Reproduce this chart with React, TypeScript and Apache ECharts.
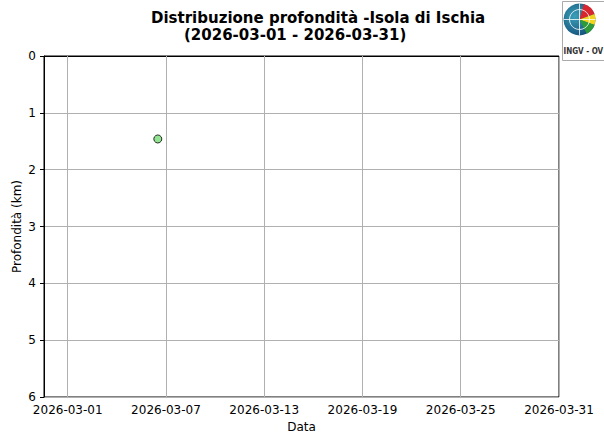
import React, { useEffect, useRef } from "react";
import * as echarts from "echarts";

// ---- data ----
const eventTimes: string[] = ["2026-03-06T12:00:00Z"];
const eventDepths: number[] = [1.46];
const xTickDates: string[] = [
  "2026-03-01",
  "2026-03-07",
  "2026-03-13",
  "2026-03-19",
  "2026-03-25",
  "2026-03-31",
];
const yTicks: number[] = [0, 1, 2, 3, 4, 5, 6];
const titleLine1 = "Distribuzione profondità -Isola di Ischia";
const titleLine2 = "(2026-03-01 - 2026-03-31)";

const DAY = 86400000;
const toMs = (s: string) => new Date(s.length === 10 ? s + "T00:00:00Z" : s).getTime();

export default function App() {
  const ref = useRef<HTMLDivElement>(null);
  useEffect(() => {
    if (!ref.current) return;
    const chart = echarts.init(ref.current, null, { renderer: "svg" });
    const tickVals = xTickDates.map(toMs);
    const xMin = tickVals[0] - 1.45 * DAY;
    const xMax = tickVals[tickVals.length - 1];
    const font = "DejaVu Sans";
    chart.setOption({
      animation: false,
      backgroundColor: "#ffffff",
      textStyle: { fontFamily: font },
      grid: {
        left: 44,
        top: 56,
        width: 515,
        height: 341,
        show: true,
        borderColor: "#000",
        borderWidth: 1,
        backgroundColor: "transparent",
        containLabel: false,
        outerBoundsMode: "none",
      },
      xAxis: {
        type: "value",
        min: xMin,
        max: xMax,
        name: "Data",
        nameLocation: "middle",
        nameGap: 24,
        nameMoveOverlap: false,
        nameTextStyle: { fontSize: 12, color: "#000", fontFamily: font },
        axisLine: { show: true, lineStyle: { color: "#000", width: 1 } },
        axisTick: {
          show: true,
          length: 4,
          lineStyle: { color: "#000" },
          customValues: tickVals,
        },
        axisLabel: {
          customValues: tickVals,
          color: "#000",
          fontSize: 12,
          fontFamily: font,
          margin: 7,
          formatter: (v: number) => new Date(v).toISOString().slice(0, 10),
        },
        splitLine: { show: false },
      },
      yAxis: {
        type: "value",
        inverse: true,
        min: yTicks[0],
        max: yTicks[yTicks.length - 1],
        interval: 1,
        name: "Profondità (km)",
        nameLocation: "middle",
        nameGap: 21,
        nameMoveOverlap: false,
        nameRotate: 90,
        nameTextStyle: { fontSize: 12, color: "#000", fontFamily: font },
        axisLine: { show: true, lineStyle: { color: "#000", width: 1 } },
        axisTick: { show: true, length: 4, lineStyle: { color: "#000" } },
        axisLabel: { color: "#000", fontSize: 12, fontFamily: font, margin: 8 },
        splitLine: { show: true, lineStyle: { color: "#b0b0b0", width: 1 } },
      },
      series: [
        {
          type: "scatter",
          data: [],
          z: 1,
          markLine: {
            silent: true,
            symbol: "none",
            label: { show: false },
            lineStyle: { color: "#b0b0b0", width: 1, type: "solid" },
            data: tickVals.map((v) => ({ xAxis: v })),
          },
        },
        {
          type: "scatter",
          z: 5,
          symbol: "circle",
          symbolSize: 8,
          itemStyle: { color: "#77dd77", borderColor: "#000", borderWidth: 1 },
          data: eventTimes.map((t, i) => [toMs(t), eventDepths[i]]),
        },
      ],
      graphic: [
        {
          type: "text",
          left: 151,
          top: 10,
          style: { text: titleLine1, font: "bold 15px 'DejaVu Sans'", fill: "#000" },
        },
        {
          type: "text",
          left: 184,
          top: 27,
          style: { text: titleLine2, font: "bold 15px 'DejaVu Sans'", fill: "#000" },
        },
        {
          type: "group",
          left: 561,
          top: 1,
          children: [
            {
              type: "rect",
              shape: { x: 0, y: 0, width: 50, height: 59 },
              style: { fill: "#fff", stroke: "#aaa", lineWidth: 1 },
            },
            {
              type: "circle",
              shape: { cx: 17, cy: 18, r: 16 },
              style: {
                fill: new echarts.graphic.RadialGradient(0.35, 0.4, 0.8, [
                  { offset: 0, color: "#3aa0b8" },
                  { offset: 1, color: "#0d3f6e" },
                ]),
              },
            },
            {
              type: "sector",
              shape: { cx: 17, cy: 18, r: 16, r0: 0, startAngle: -1.3, endAngle: -0.35 },
              style: { fill: "#d8262e" },
            },
            {
              type: "sector",
              shape: { cx: 17, cy: 18, r: 16, r0: 0, startAngle: -0.35, endAngle: 0.35 },
              style: { fill: "#f2d41a" },
            },
            {
              type: "sector",
              shape: { cx: 17, cy: 18, r: 16, r0: 0, startAngle: 0.35, endAngle: 1.1 },
              style: { fill: "#2f9a3a" },
            },
            {
              type: "arc",
              shape: { cx: 17, cy: 18, r: 10, startAngle: 0, endAngle: Math.PI * 2 },
              style: { stroke: "#fff", lineWidth: 0.8, fill: "none" },
            },
            {
              type: "line",
              shape: { x1: 17, y1: 2, x2: 17, y2: 34 },
              style: { stroke: "#fff", lineWidth: 0.8 },
            },
            {
              type: "line",
              shape: { x1: 1, y1: 18, x2: 33, y2: 18 },
              style: { stroke: "#fff", lineWidth: 0.8 },
            },
            {
              type: "text",
              x: 1,
              y: 46,
              style: { text: "INGV - OV", font: "bold 8px 'Liberation Sans Narrow', 'DejaVu Sans Condensed'", fill: "#333" },
            },
          ],
        },
      ],
    });
    return () => chart.dispose();
  }, []);
  return (
    <div
      ref={ref}
      style={{ position: "fixed", left: 0, top: 0, width: 604, height: 434 }}
    />
  );
}
